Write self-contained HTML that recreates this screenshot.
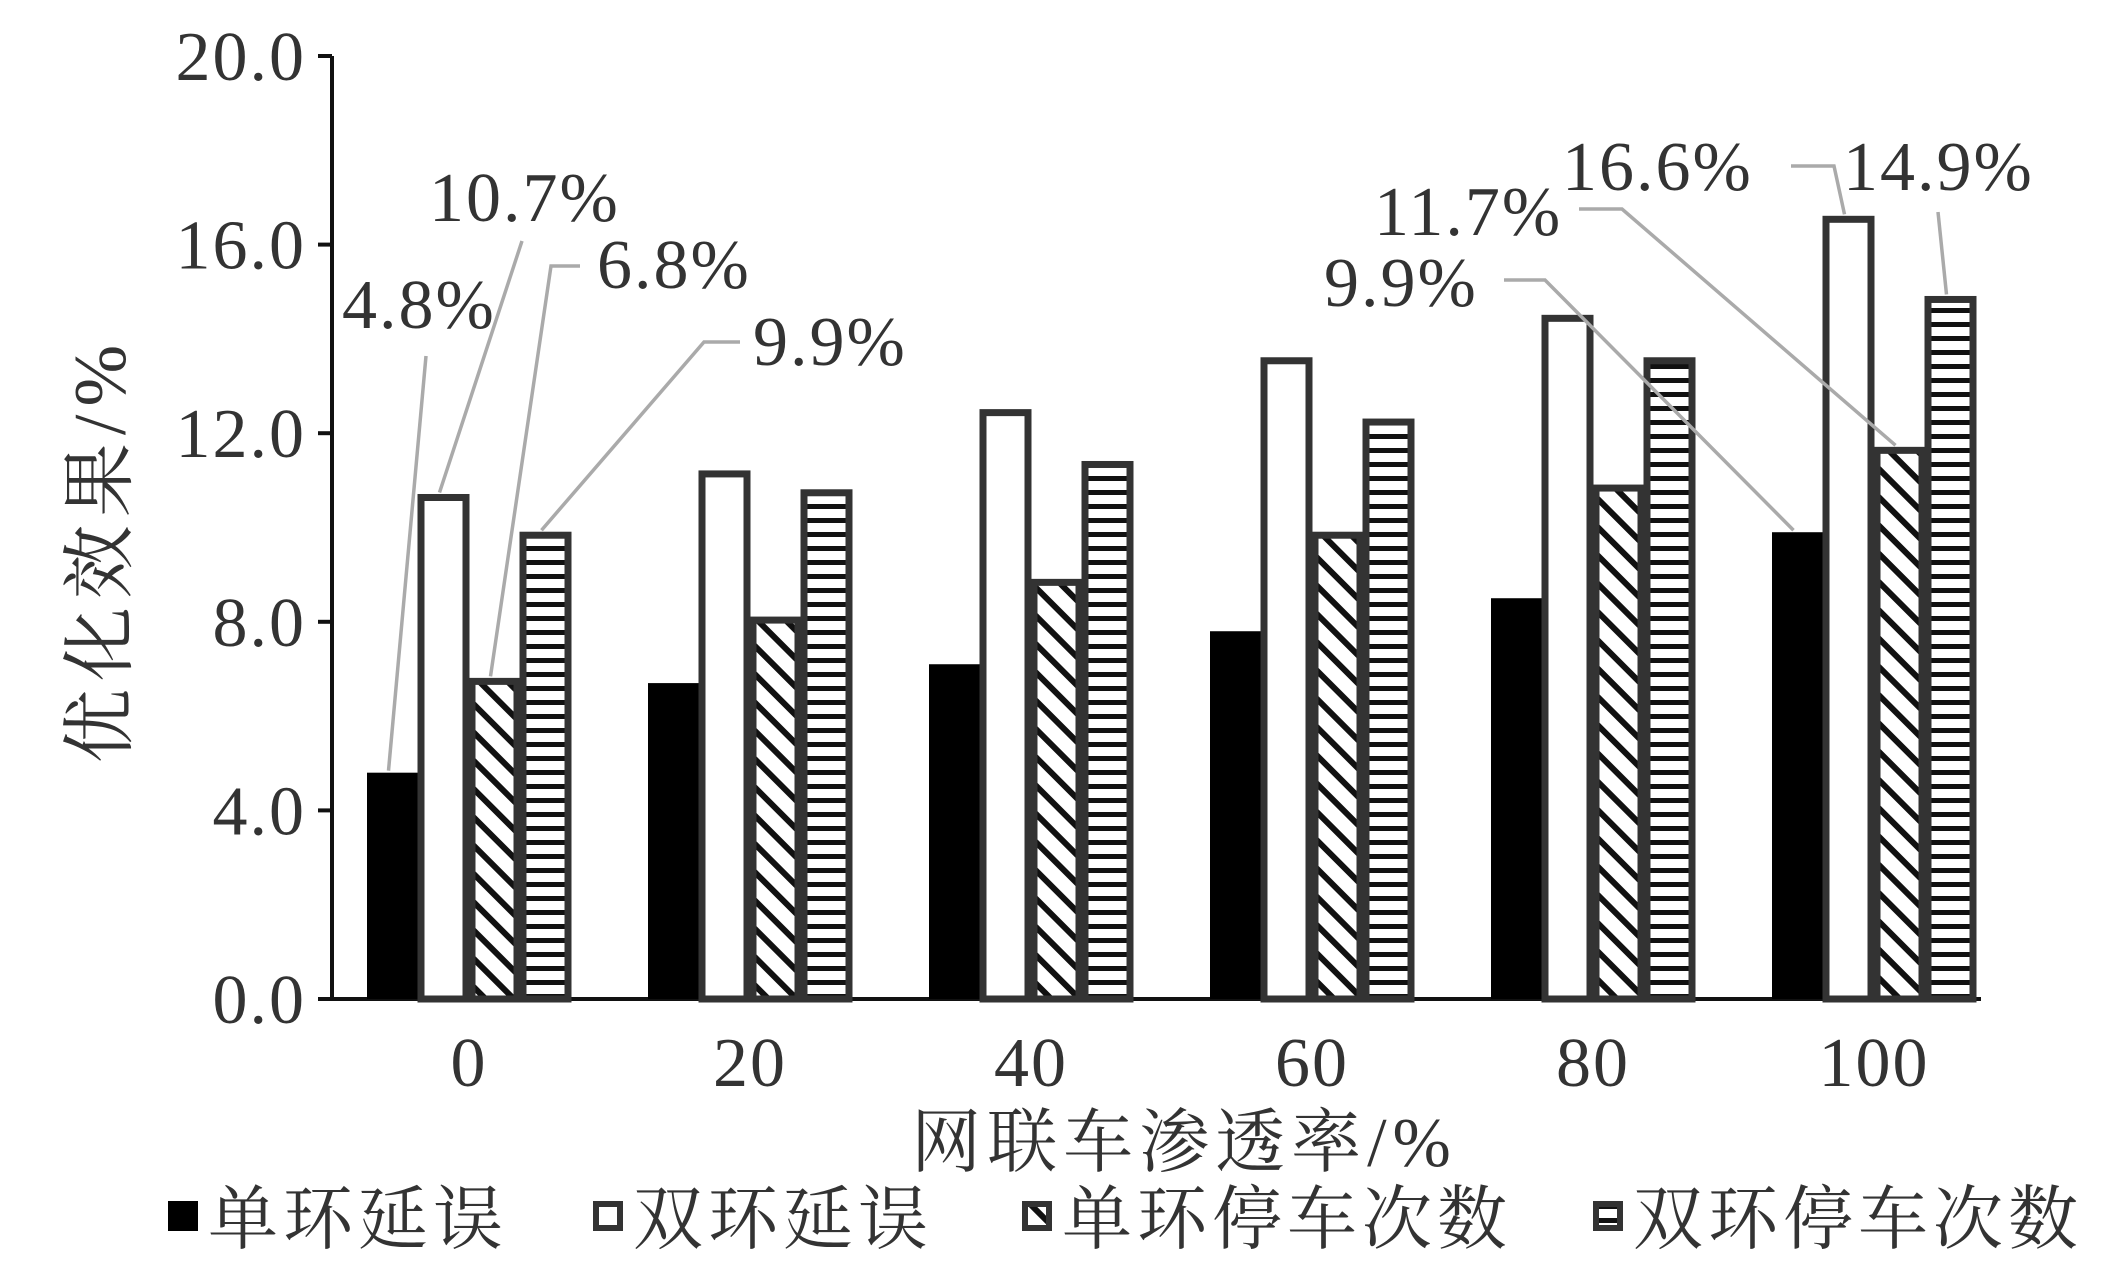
<!DOCTYPE html>
<html><head><meta charset="utf-8"><style>
html,body{margin:0;padding:0;background:#fff;}
svg{display:block;}
text{font-family:"Liberation Serif","Noto Serif CJK SC",serif;fill:#333;}
.cjk{font-family:"Liberation Serif","Noto Serif CJK SC","Noto Sans CJK SC",serif;}
</style></head><body>
<svg id="chart" width="2102" height="1283" viewBox="0 0 2102 1283">
<defs>
<pattern id="diag" patternUnits="userSpaceOnUse" width="20" height="20" patternTransform="rotate(45)">
<rect width="20" height="20" fill="#fff"/><rect x="0" y="0" width="20" height="6" fill="#111"/></pattern>
<pattern id="horiz" patternUnits="userSpaceOnUse" width="14" height="14">
<rect width="14" height="14" fill="#fff"/><rect x="0" y="0" width="14" height="5" fill="#111"/></pattern>
</defs>
<g id="plot"></g>
</svg>
<script>
const categories = ["0","20","40","60","80","100"];
const singleDelay = [4.8,6.7,7.1,7.8,8.5,9.9];
const doubleDelay = [10.7,11.2,12.5,13.6,14.5,16.6];
const singleStops = [6.8,8.1,8.9,9.9,10.9,11.7];
const doubleStops = [9.9,10.8,11.4,12.3,13.6,14.9];
const yTicks = [0,4,8,12,16,20];
const yTickLabels = ["0.0","4.0","8.0","12.0","16.0","20.0"];
const seriesNames = ["单环延误","双环延误","单环停车次数","双环停车次数"];

const NS="http://www.w3.org/2000/svg";
const g=document.getElementById('plot');
const x0=332,yBase=999,yTop=56,xEnd=1981;
const yS=v=>yBase-(yBase-yTop)*v/20;
const xC=i=>469+i*281;
const bw=51;
function mk(t,a,p){const e=document.createElementNS(NS,t);for(const k in a)e.setAttribute(k,a[k]);(p||g).appendChild(e);return e;}

let ax=mk('line',{x1:x0,y1:yTop,x2:x0,y2:yBase,stroke:'#111','stroke-width':4});


ax=mk('line',{x1:x0,y1:yBase,x2:xEnd,y2:yBase,stroke:'#111','stroke-width':4});


yTicks.forEach((v,i)=>{
 const y=yS(v);
 const tk=mk('line',{x1:x0-14,y1:y,x2:x0,y2:y,stroke:'#111','stroke-width':4});
 
 
 const t=mk('text',{x:306,y:y+24,'text-anchor':'end','font-size':70,'letter-spacing':2});
 t.textContent=yTickLabels[i];
 
 
});
categories.forEach((c,i)=>{
 const t=mk('text',{x:xC(i),y:1086,'text-anchor':'middle','font-size':70,'letter-spacing':2});
 t.textContent=c;
 
 
});
const series=[singleDelay,doubleDelay,singleStops,doubleStops];
const fills=['#000','#fff','url(#diag)','url(#horiz)'];
const tops=[];
series.forEach((arr,s)=>{
 tops[s]=[];
 arr.forEach((v,i)=>{
  const x=xC(i)-102+s*bw;const y=yS(v);
  tops[s][i]=[x+bw/2,y];
  const r=mk('rect',{x:x+(s?3:0),y:y+(s?3:0),width:bw-(s?6:0),height:yBase-y-(s?3:0),fill:fills[s],stroke:s?'#333':'none','stroke-width':s?7:0});
  
  
 });
});
const callouts=[
 [0,0,342,328,[[426,356]]],
 [1,0,429,221,[[522,241]]],
 [2,0,597,288,[[580,266],[551,266]]],
 [3,0,753,365,[[740,342],[704,342]]],
 [0,5,1324,306,[[1504,280],[1545,280]]],
 [2,5,1374,235,[[1579,209],[1622,209]]],
 [1,5,1562,190,[[1791,166],[1834,166]]],
 [3,5,1843,190,[[1938,212]]]
];
callouts.forEach(c=>{
 const [s,i,tx,ty,pts]=c;
 const top=tops[s][i];
 const all=pts.concat([[top[0]-4,top[1]-2]]);
 const pl=mk('polyline',{points:all.map(p=>p.join(',')).join(' '),fill:'none',stroke:'#aaa','stroke-width':3.5});
 
 
 const t=mk('text',{x:tx,y:ty,'font-size':70,'letter-spacing':2});
 t.textContent=series[s][i].toFixed(1)+'%';
 
 
});
let t=mk('text',{x:0,y:0,'font-size':74,'letter-spacing':8,'text-anchor':'middle',transform:'translate(125,550) rotate(-90)',class:'cjk'});
t.textContent='优化效果/%';


t=mk('text',{x:1184,y:1166,'font-size':70,'letter-spacing':6,'text-anchor':'middle',class:'cjk'});
t.textContent='网联车渗透率/%';


const lx=[168,593,1022,1593];
seriesNames.forEach((n,s)=>{
 const r=mk('rect',{x:lx[s]+(s?3:0),y:1201+(s?3:0),width:30-(s?6:0),height:30-(s?6:0),fill:s===2?'url(#diag)':s===3?'url(#horiz)':fills[s],stroke:s?'#333':'none','stroke-width':s?6:0});
 
 
 const tt=mk('text',{x:lx[s]+40,y:1243,'font-size':70,'letter-spacing':5,class:'cjk'});
 tt.textContent=n;
 
 
});
</script>
</body></html>
